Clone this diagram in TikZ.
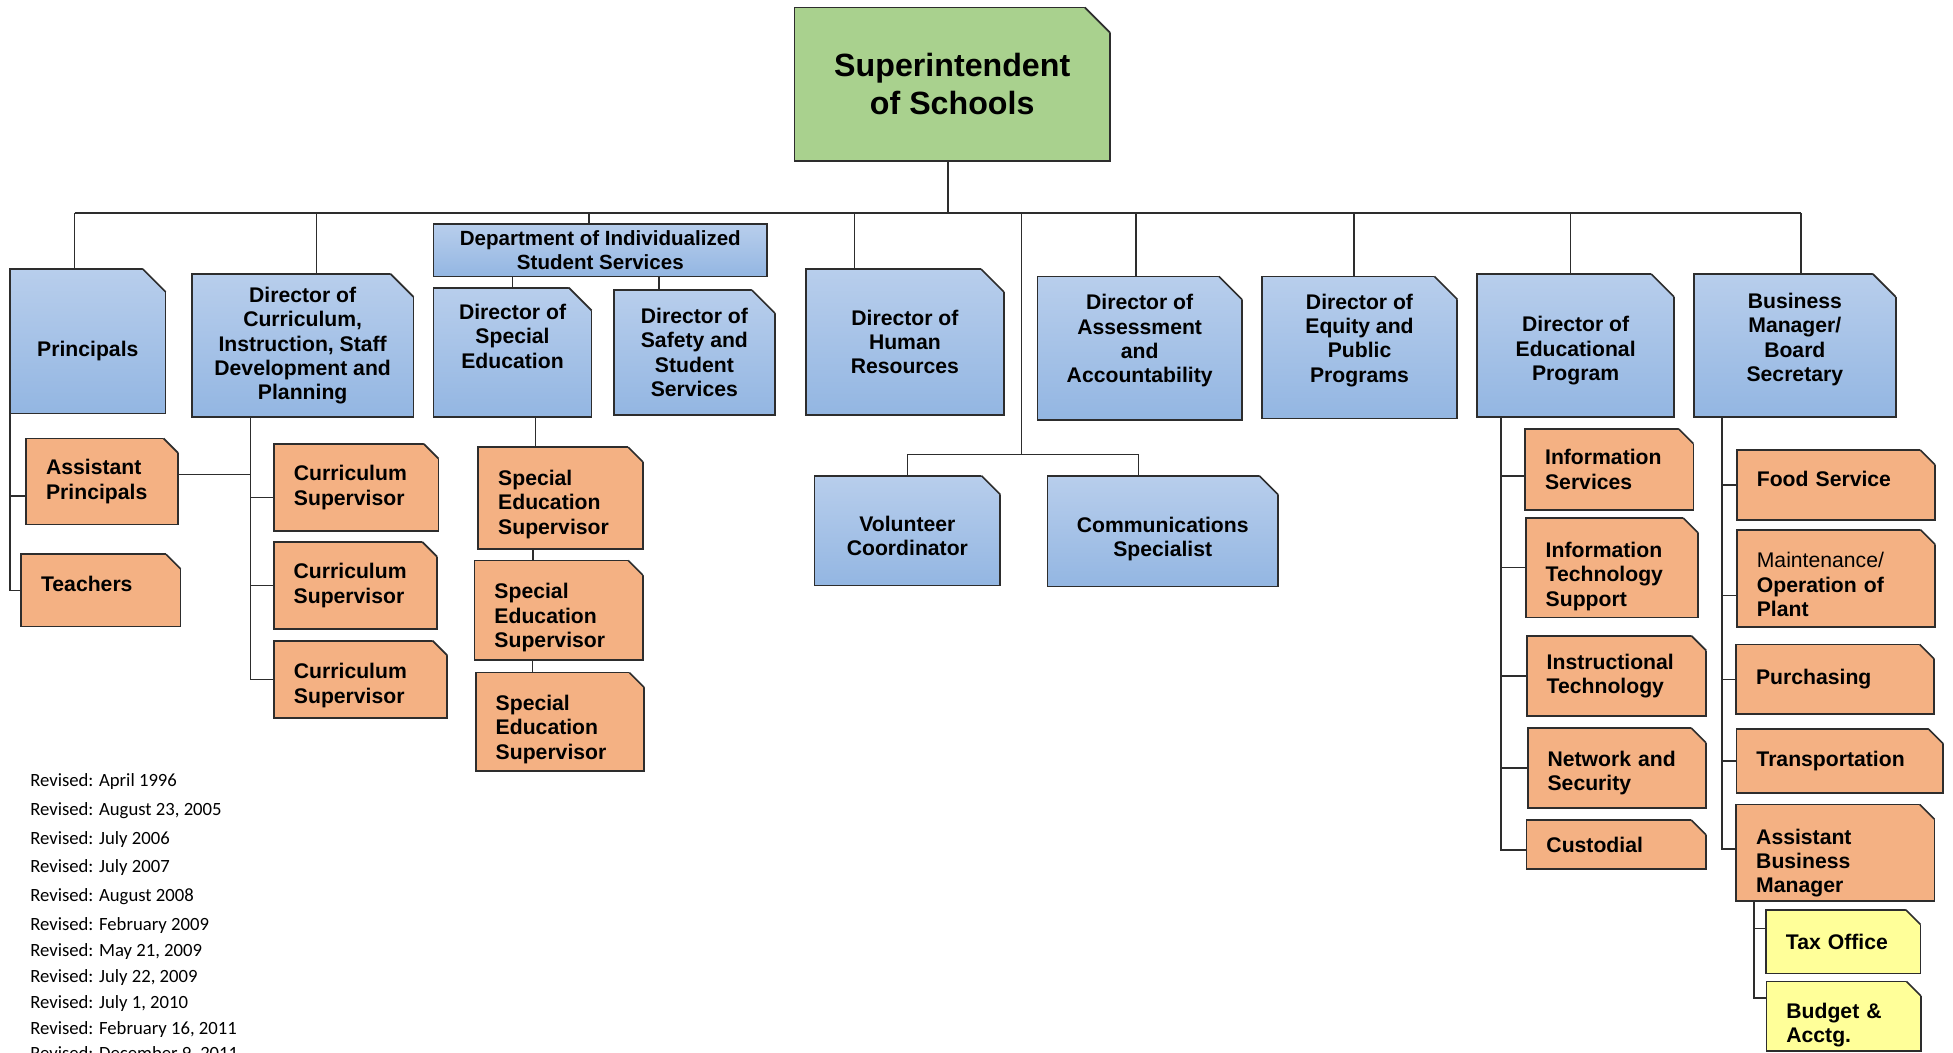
\documentclass[tikz,border=0pt]{standalone}
\usepackage{fontspec}
\setmainfont{Liberation Sans}
\newfontfamily\revfont{Carlito}

\definecolor{bluetop}{RGB}{184,206,236}
\definecolor{bluebot}{RGB}{147,182,226}
\definecolor{orangefill}{RGB}{244,177,131}
\definecolor{greenfill}{RGB}{169,209,142}
\definecolor{yellowfill}{RGB}{255,255,153}
\definecolor{edge}{RGB}{45,45,45}

% cut the top right corner of a box
\newcommand\snipcorner[2]{%
  \fill[white] ([xshift=-#2]#1.north east) -- ([xshift=-#2,yshift=1pt]#1.north east)
    -- ([xshift=1pt,yshift=1pt]#1.north east) -- ([xshift=1pt,yshift=-#2]#1.north east)
    -- ([yshift=-#2]#1.north east) -- cycle;
  \draw[edge, line width=0.8pt] ([xshift=-#2]#1.north east) -- ([yshift=-#2]#1.north east);}

\tikzset{
  office/.style={rectangle, draw=edge, line width=0.8pt, outer sep=0pt,
    font=\fontsize{10.2}{11.7}\selectfont\bfseries},
  dims/.style 2 args={minimum width=#1*0.6pt, minimum height=#2*0.6pt},
  sdims/.style 2 args={minimum width=#1*0.6pt, minimum height=#2*0.6pt,
    text width=#1*0.6pt-19.2pt},
  chief/.style={office, fill=greenfill, align=center, inner sep=2pt,
    font=\fontsize{15.5}{18}\selectfont\bfseries},
  director/.style={office, top color=bluetop, bottom color=bluebot, align=center,
    inner sep=2pt},
  deptbox/.style={director, inner sep=0pt, font=\fontsize{9.9}{11.4}\selectfont\bfseries},
  staff/.style={office, fill=orangefill, align=left, inner xsep=9.6pt, inner ysep=2pt},
  clerk/.style={staff, fill=yellowfill},
  revision/.style={anchor=base west, inner sep=0pt,
    font=\revfont\fontsize{9}{10}\selectfont},
  link/.style={draw=edge, line width=0.7pt},
}

\begin{document}
\begin{tikzpicture}[x=0.6pt,y=-0.6pt]
\useasboundingbox (0,0) rectangle (1568,845);

% top
\node[chief, dims={253}{123}] (super) at (764.5,67.5) {Superintendent\\of Schools};

% directors
\node[director, dims={125}{116}] (principals) at (70.5,274) {\mbox{}\\[5.3pt]Principals};
\node[director, dims={178}{115}] (curdir) at (243,277.5) {Director of\\Curriculum,\\Instruction, Staff\\Development and\\Planning};
\node[deptbox, dims={268}{42}] (dept) at (482,201) {Department of Individualized\\Student Services};
\node[director, dims={127}{104}] (sped) at (411.5,283) {Director of\\Special\\Education\\[4.1pt]\mbox{}};
\node[director, dims={129}{100}] (safety) at (557.5,283) {Director of\\Safety and\\Student\\Services};
\node[director, dims={159}{117}] (hr) at (726.5,274.5) {Director of\\Human\\Resources};
\node[director, dims={164}{115}] (assess) at (915,279.5) {Director of\\Assessment\\and\\Accountability\\[-2.5pt]\mbox{}};
\node[director, dims={157}{114}] (equity) at (1091.5,279) {Director of\\Equity and\\Public\\Programs\\[-2.5pt]\mbox{}};
\node[director, dims={158}{115}] (eduprog) at (1265,277.5) {\mbox{}\\[0.5pt]Director of\\Educational\\Program};
\node[director, dims={162}{115}] (business) at (1441,277.5) {Business\\Manager/\\Board\\Secretary\\[-3.7pt]\mbox{}};
\node[director, dims={149}{88}] (volunteer) at (728.5,426) {\mbox{}\\[0.5pt]Volunteer\\Coordinator};
\node[director, dims={185}{89}] (comms) at (933.5,426.5) {\mbox{}\\[2.9pt]Communications\\Specialist};

% principals and curriculum staff
\node[staff, sdims={122}{69}] (asstprin) at (82,386.5) {Assistant\\Principals};
\node[staff, sdims={128}{58}] (teachers) at (81,474) {Teachers\\[-5.7pt]\mbox{}};
\node[staff, sdims={132}{70}] (cursup1) at (286,391.5) {Curriculum\\Supervisor};
\node[staff, sdims={131}{70}] (cursup2) at (285.3,470.2) {Curriculum\\Supervisor};
\node[staff, sdims={139}{62}] (cursup3) at (289.5,545.4) {\mbox{}\\[1.7pt]Curriculum\\Supervisor};

% special education
\node[staff, sdims={132}{82}] (spedsup1) at (450,400) {\mbox{}\\[1.7pt]Special\\Education\\Supervisor};
\node[staff, sdims={135}{80}] (spedsup2) at (448.5,490) {\mbox{}\\[2.9pt]Special\\Education\\Supervisor};
\node[staff, sdims={135}{79}] (spedsup3) at (449.5,579.5) {\mbox{}\\[2.9pt]Special\\Education\\Supervisor};

% educational program
\node[staff, sdims={135}{65}] (infoserv) at (1292,377) {Information\\Services};
\node[staff, sdims={138}{80}] (itsupport) at (1294,455.8) {\mbox{}\\[4.1pt]Information\\Technology\\Support};
\node[staff, sdims={144}{64}] (insttech) at (1297.8,542.6) {Instructional\\Technology};
\node[staff, sdims={143}{64}] (network) at (1298,616.5) {\mbox{}\\[0.5pt]Network and\\Security};
\node[staff, sdims={144}{39}] (custodial) at (1297.6,678) {Custodial};

% business office
\node[staff, sdims={159}{56}] (food) at (1474,389.4) {Food Service\\[-5.7pt]\mbox{}};
\node[staff, sdims={159}{78}] (maint) at (1474,464.3) {\mbox{}\\[1.7pt]{\mdseries Maintenance/}\\Operation of\\Plant};
\node[staff, sdims={159}{56}] (purchasing) at (1473.4,545.4) {Purchasing};
\node[staff, sdims={166}{51}] (transport) at (1477.2,611) {Transportation};
\node[staff, sdims={159}{76}] (asstbus) at (1473.5,684.8) {\mbox{}\\[5.3pt]Assistant\\Business\\Manager};
\node[clerk, sdims={124}{51}] (tax) at (1479.8,756) {Tax Office};
\node[clerk, sdims={124}{55}] (budget) at (1480.2,816) {\mbox{}\\[4.1pt]Budget \&\\Acctg.};

% cut corners
\snipcorner{super}{12pt}
\foreach \n in {principals,curdir,sped,safety,hr,assess,equity,eduprog,business}
  {\snipcorner{\n}{11pt}}
\snipcorner{volunteer}{9pt}
\snipcorner{comms}{9pt}
\foreach \n in {asstprin,teachers,cursup1,cursup2,cursup3,spedsup1,spedsup2,spedsup3,
    infoserv,itsupport,insttech,network,custodial,food,maint,purchasing,transport,asstbus,tax,budget}
  {\snipcorner{\n}{7pt}}

% lines from the superintendent
\coordinate (bus) at (761,171);
\draw[link] (super.south -| bus) -- (bus);
\draw[link] ([xshift=-6.3pt]principals.north |- bus) -- ([xshift=3pt]business.north |- bus);
\draw[link] ([xshift=-6.3pt]principals.north) -- ([xshift=-6.3pt]principals.north |- bus);
\draw[link] ([xshift=6.6pt]curdir.north) -- ([xshift=6.6pt]curdir.north |- bus);
\draw[link] ([xshift=-5.4pt]dept.north) -- ([xshift=-5.4pt]dept.north |- bus);
\draw[link] ([xshift=-24.3pt]hr.north) -- ([xshift=-24.3pt]hr.north |- bus);
\draw[link] ([xshift=-1.8pt]assess.north) -- ([xshift=-1.8pt]assess.north |- bus);
\draw[link] ([xshift=-2.7pt]equity.north) -- ([xshift=-2.7pt]equity.north |- bus);
\draw[link] ([xshift=-2.4pt]eduprog.north) -- ([xshift=-2.4pt]eduprog.north |- bus);
\draw[link] ([xshift=3pt]business.north) -- ([xshift=3pt]business.north |- bus);

\coordinate (vbranch) at (820,365);
\draw[link] (vbranch |- bus) -- (vbranch);
\draw[link] (volunteer.north) |- (vbranch) -| ([xshift=-11.7pt]comms.north);

\draw[link] (sped.north) -- (sped.north |- dept.south);
\draw[link] ([xshift=-17.1pt]safety.north) -- ([xshift=-17.1pt]safety.north |- dept.south);

% principals
\coordinate (printrunk) at ([xshift=-37.5pt]principals.south);
\draw[link] (printrunk) |- (teachers.west);
\draw[link] ([yshift=-7pt]asstprin.west) -- ([yshift=-7pt]asstprin.west -| printrunk);

% curriculum
\coordinate (curtrunk) at ([xshift=-25.2pt]curdir.south);
\draw[link] ([yshift=3.3pt]asstprin.east) -- ([yshift=3.3pt]asstprin.east -| curtrunk);
\draw[link] (curtrunk) |- (cursup3.west);
\draw[link] ([yshift=-4.7pt]cursup1.west) -- ([yshift=-4.7pt]cursup1.west -| curtrunk);
\draw[link] (cursup2.west) -- (cursup2.west -| curtrunk);

% special education
\draw[link] ([xshift=11.1pt]sped.south) -- ([xshift=11.1pt]sped.south |- spedsup1.north);
\draw[link] ([xshift=-13.2pt]spedsup1.south) -- ([xshift=-13.2pt]spedsup1.south |- spedsup2.north);
\draw[link] ([xshift=-12.5pt]spedsup2.south) -- ([xshift=-12.5pt]spedsup2.south |- spedsup3.north);

% educational program
\coordinate (edutrunk) at ([xshift=-36pt]eduprog.south);
\draw[link] (edutrunk) |- ([yshift=-2.7pt]custodial.west);
\draw[link] ([yshift=-3pt]infoserv.west) -- ([yshift=-3pt]infoserv.west -| edutrunk);
\draw[link] (itsupport.west) -- (itsupport.west -| edutrunk);
\draw[link] (insttech.west) -- (insttech.west -| edutrunk);
\draw[link] (network.west) -- (network.west -| edutrunk);

% business office
\coordinate (bustrunk) at ([xshift=-35.2pt]business.south);
\draw[link] (bustrunk) |- ([yshift=1.9pt]asstbus.west);
\draw[link] (food.west) -- (food.west -| bustrunk);
\draw[link] ([yshift=-8.2pt]maint.west) -- ([yshift=-8.2pt]maint.west -| bustrunk);
\draw[link] (purchasing.west) -- (purchasing.west -| bustrunk);
\draw[link] (transport.west) -- (transport.west -| bustrunk);

\coordinate (abmtrunk) at ([xshift=-39.1pt]asstbus.south);
\draw[link] (abmtrunk) |- ([yshift=8.8pt]budget.west);
\draw[link] ([yshift=6.2pt]tax.west) -- ([yshift=6.2pt]tax.west -| abmtrunk);

% revisions
\node[revision] (rev1) at (24,631.6) {Revised: April 1996};
\node[revision] (rev2) at (24,654.9) {Revised: August 23, 2005};
\node[revision] (rev3) at (24,677.9) {Revised: July 2006};
\node[revision] (rev4) at (24,700.4) {Revised: July 2007};
\node[revision] (rev5) at (24,724) {Revised: August 2008};
\node[revision] (rev6) at (24,747.2) {Revised: February 2009};
\node[revision] (rev7) at (24,768.1) {Revised: May 21, 2009};
\node[revision] (rev8) at (24,788.7) {Revised: July 22, 2009};
\node[revision] (rev9) at (24,809.6) {Revised: July 1, 2010};
\node[revision] (rev10) at (24,830.2) {Revised: February 16, 2011};
\node[revision] (rev11) at (24,850.3) {Revised: December 9, 2011};
\end{tikzpicture}
\end{document}
